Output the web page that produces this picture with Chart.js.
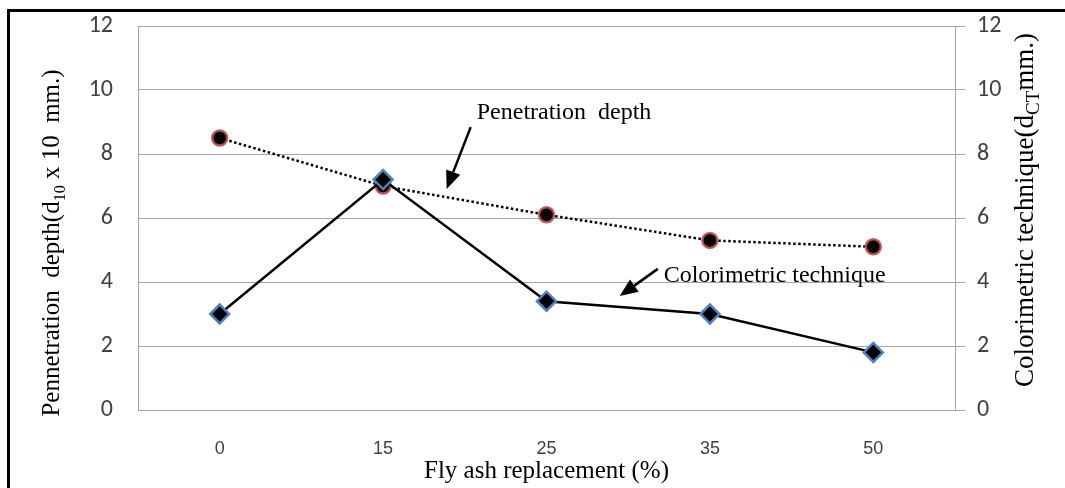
<!DOCTYPE html>
<html>
<head>
<meta charset="utf-8">
<script src="https://cdn.jsdelivr.net/npm/chart.js@4.4.1/dist/chart.umd.min.js"></script>
<style>
  html, body { margin: 0; padding: 0; background: #fff; overflow: hidden; }
  #wrap { position: relative; width: 1065px; height: 488px; }
  #frame { position: absolute; left: 7px; top: 9px; width: 1100px; height: 600px; border: 3px solid #000; box-sizing: border-box; }
  canvas { position: absolute; left: 0; top: 0; }
</style>
</head>
<body>
<div id="wrap">
  <div id="frame"></div>
  <canvas id="chart" width="1065" height="488"></canvas>
</div>
<script>
// fly ash replacement levels (%)
const replacement = ["0", "15", "25", "35", "50"];
// penetration depth (d10 x 10 mm) and colorimetric depth (dCT mm)
const penetrationDepth = [8.5, 7.0, 6.1, 5.3, 5.1];
const colorimetric = [3.0, 7.2, 3.4, 3.0, 1.8];
const yMin = 0, yMax = 12, yStep = 2;

// callouts, positions given as [category index, value]
const noteTexts = ["Penetration  depth", "Colorimetric technique"];
const noteAt = [[1.573, 9.3], [2.717, 4.19]];
const arrowFrom = [[1.536, 8.84], [2.681, 4.41]];
const arrowTo = [[1.389, 6.91], [2.448, 3.56]];

const serif = '"Liberation Serif", "Times New Roman", serif';
const gridGray = '#a6a6a6';
const tickGray = '#404040';

function drawArrow(ctx, x1, y1, x2, y2) {
  const a = Math.atan2(y2 - y1, x2 - x1);
  const len = 18, half = 7.5;
  const bx = x2 - len * Math.cos(a), by = y2 - len * Math.sin(a);
  ctx.lineWidth = 2.5;
  ctx.beginPath();
  ctx.moveTo(x1, y1);
  ctx.lineTo(bx, by);
  ctx.stroke();
  ctx.beginPath();
  ctx.moveTo(x2, y2);
  ctx.lineTo(bx + half * Math.sin(a), by - half * Math.cos(a));
  ctx.lineTo(bx - half * Math.sin(a), by + half * Math.cos(a));
  ctx.closePath();
  ctx.fill();
}

// rotated axis title with a subscript part
function drawRich(ctx, parts, cx, cy, size, subScale) {
  const big = size + 'px ' + serif;
  const small = Math.round(size * subScale) + 'px ' + serif;
  let total = 0;
  parts.forEach(p => {
    ctx.font = p.sub ? small : big;
    p.w = ctx.measureText(p.t).width;
    total += p.w;
  });
  ctx.save();
  ctx.translate(cx, cy);
  ctx.rotate(-Math.PI / 2);
  ctx.fillStyle = '#000';
  ctx.textBaseline = 'alphabetic';
  const base = size * 0.24;
  let px = -total / 2;
  parts.forEach(p => {
    ctx.font = p.sub ? small : big;
    ctx.fillText(p.t, px, p.sub ? base + size * 0.22 : base);
    px += p.w;
  });
  ctx.restore();
}

const notes = {
  id: 'notes',
  afterDatasetsDraw(chart) {
    const { ctx, scales: { x, y } } = chart;
    ctx.save();
    ctx.fillStyle = '#000';
    ctx.strokeStyle = '#000';
    ctx.font = '24px ' + serif;
    ctx.textBaseline = 'middle';
    noteTexts.forEach((t, i) => {
      ctx.fillText(t, x.getPixelForValue(noteAt[i][0]), y.getPixelForValue(noteAt[i][1]));
      drawArrow(ctx,
        x.getPixelForValue(arrowFrom[i][0]), y.getPixelForValue(arrowFrom[i][1]),
        x.getPixelForValue(arrowTo[i][0]), y.getPixelForValue(arrowTo[i][1]));
    });
    ctx.restore();
  }
};

const axisTitles = {
  id: 'axisTitles',
  afterDraw(chart) {
    const { ctx, chartArea } = chart;
    const midY = (chartArea.top + chartArea.bottom) / 2;
    drawRich(ctx, [{ t: 'Pennetration  depth(d' }, { t: '10', sub: true }, { t: ' x 10  mm.)' }], 53, midY + 25, 25, 0.62);
    drawRich(ctx, [{ t: 'Colorimetric technique(d' }, { t: 'CT', sub: true }, { t: 'mm.)' }], 1027, midY - 8, 27, 0.7);
  }
};

// fixed axis boxes so the plot area lines up with the frame
function fitY(width) {
  return s => {
    s.width = width;
    s.paddingTop = 0;
    s.paddingBottom = 0;
  };
}

new Chart(document.getElementById('chart'), {
  type: 'line',
  data: {
    labels: replacement,
    datasets: [
      {
        label: 'Penetration depth',
        data: penetrationDepth,
        yAxisID: 'y',
        order: 2,
        borderColor: '#000',
        borderWidth: 2.5,
        borderDash: [2.5, 2.5],
        pointRadius: 7.5,
        pointBackgroundColor: '#000',
        pointBorderColor: 'rgba(192, 80, 77, 0.9)',
        pointBorderWidth: 2.5,
        tension: 0
      },
      {
        label: 'Colorimetric technique',
        data: colorimetric,
        yAxisID: 'y2',
        order: 1,
        borderColor: '#000',
        borderWidth: 2.5,
        pointStyle: 'rectRot',
        pointRadius: 9.5,
        pointBackgroundColor: '#000',
        pointBorderColor: '#4f81bd',
        pointBorderWidth: 2.5,
        tension: 0
      }
    ]
  },
  options: {
    responsive: false,
    animation: false,
    layout: { padding: { top: 26, left: 0, right: 0, bottom: 0 } },
    plugins: { legend: { display: false }, tooltip: { enabled: false } },
    scales: {
      x: {
        offset: true,
        grid: { display: false },
        border: { display: true, color: gridGray },
        ticks: {
          color: tickGray,
          font: { family: '"Liberation Sans Narrow", "Liberation Sans", sans-serif', size: 18 },
          padding: 20
        },
        title: {
          display: true,
          text: 'Fly ash replacement (%)',
          color: '#000',
          font: { family: serif, size: 25 },
          padding: { top: 0, bottom: 2 }
        },
        afterFit: s => { s.height = 78; }
      },
      y: {
        position: 'left',
        min: yMin,
        max: yMax,
        ticks: { stepSize: yStep, color: tickGray, font: { family: 'Carlito, Lato, sans-serif', size: 24 }, padding: 25 },
        grid: { color: gridGray, drawTicks: false },
        border: { color: gridGray },
        afterFit: fitY(138)
      },
      y2: {
        position: 'right',
        min: yMin,
        max: yMax,
        ticks: { stepSize: yStep, color: tickGray, font: { family: 'Carlito, Lato, sans-serif', size: 24 }, padding: 12 },
        grid: { drawOnChartArea: false, color: gridGray, tickLength: 10 },
        border: { color: gridGray },
        afterFit: fitY(110)
      }
    }
  },
  plugins: [notes, axisTitles]
});
</script>
</body>
</html>
